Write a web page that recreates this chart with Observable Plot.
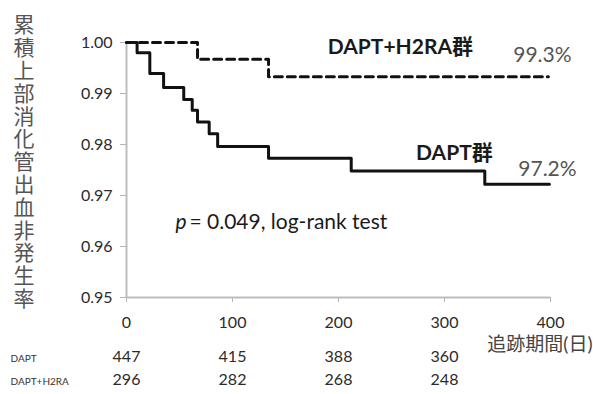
<!DOCTYPE html>
<html>
<head>
<meta charset="utf-8">
<script src="https://cdn.jsdelivr.net/npm/d3@7"></script>
<script src="https://cdn.jsdelivr.net/npm/@observablehq/plot@0.6"></script>
<style>
  html, body { margin: 0; padding: 0; background: #fff; }
  #wrap { position: relative; width: 593px; height: 394px; overflow: hidden; }
  #ytitle {
    position: absolute; left: 12px; top: 14px;
    writing-mode: vertical-rl; font-family: "Noto Sans CJK JP", sans-serif;
    font-size: 21px; line-height: 23px; letter-spacing: 1.8px; color: #555;
  }
  svg { font-family: Lato, "Noto Sans CJK JP", sans-serif; }
</style>
</head>
<body>
<div id="wrap"><div id="ytitle">累積上部消化管出血非発生率</div></div>
<script>
// Kaplan–Meier step data (days, survival without upper GI bleeding)
const daptDays  = [0, 10, 22, 35, 54, 62, 67, 78, 86, 134, 212, 338, 399];
const daptSurv  = [1.000, 0.998, 0.9939, 0.9912, 0.9888, 0.9867, 0.9844, 0.9821, 0.9796, 0.9773, 0.9748, 0.9722, 0.9722];
const h2raDays  = [0, 67, 134, 398];
const h2raSurv  = [1.000, 0.9967, 0.9933, 0.9933];

// Numbers at risk
const riskDays   = [0, 100, 200, 300];
const riskDapt   = [447, 415, 388, 360];
const riskH2ra   = [296, 282, 268, 248];
const groupNames = ["DAPT", "DAPT+H2RA"];

const xTicks = [0, 100, 200, 300, 400];
const yTicks = [0.95, 0.96, 0.97, 0.98, 0.99, 1.00];

const dapt = daptDays.map((d, i) => ({day: d, s: daptSurv[i]}));
const h2ra = h2raDays.map((d, i) => ({day: d, s: h2raSurv[i]}));
const riskRows = [riskDapt, riskH2ra].map((arr, row) => riskDays.map((d, i) => ({day: d, n: arr[i]})));
const lastH = h2ra[h2ra.length - 1];
const lastD = dapt[dapt.length - 1];
const pct = d => (d.s * 100).toFixed(1) + "%";

const chart = Plot.plot({
  width: 593, height: 394,
  marginLeft: 126, marginRight: 43, marginTop: 42, marginBottom: 97,
  x: {domain: [0, 400]},
  y: {domain: [0.95, 1.0]},
  style: {fontFamily: 'Lato, "Noto Sans CJK JP", sans-serif', background: "white"},
  marks: [
    Plot.axisY({ticks: yTicks, tickFormat: d3.format(".2f"), tickSize: 6, tickPadding: 8,
                stroke: "#b5b5b5", fill: "#2b2b2b", fontSize: 16, label: null}),
    Plot.axisX({ticks: xTicks, tickFormat: d3.format("d"), tickSize: 5, tickPadding: 14,
                stroke: "#b5b5b5", fill: "#2b2b2b", fontSize: 16, label: null}),
    Plot.ruleX([0], {stroke: "#bdbdbd", strokeWidth: 2}),
    Plot.ruleY([0.95], {stroke: "#bdbdbd", strokeWidth: 2}),
    Plot.line(h2ra, {x: "day", y: "s", curve: "step-after", stroke: "#111", strokeWidth: 3, strokeDasharray: "8,5"}),
    Plot.line(dapt, {x: "day", y: "s", curve: "step-after", stroke: "#111", strokeWidth: 3}),
    Plot.text([lastH], {x: "day", y: "s", text: () => "DAPT+H2RA群", dx: -148, dy: -29,
                        fontSize: 21, fontWeight: "bold", fill: "#1a1a1a"}),
    Plot.text([lastH], {x: "day", y: "s", text: pct, dx: -6, dy: -21,
                        fontSize: 21, fill: "#555"}),
    Plot.text([lastD], {x: "day", y: "s", text: () => "DAPT群", dx: -95, dy: -31,
                        fontSize: 21, fontWeight: "bold", fill: "#1a1a1a"}),
    Plot.text([lastD], {x: "day", y: "s", text: pct, dx: -2, dy: -15,
                        fontSize: 21, fill: "#555"}),
    Plot.text(["p"], {frameAnchor: "bottom-left", dx: 49, dy: -69, textAnchor: "start",
                      fontSize: 21, fontStyle: "italic", fill: "#1a1a1a"}),
    Plot.text(["= 0.049, log-rank test"], {frameAnchor: "bottom-left", dx: 63, dy: -69, textAnchor: "start",
                      fontSize: 21, fill: "#1a1a1a"}),
    Plot.text(["追跡期間(日)"], {frameAnchor: "bottom-right", dx: 42, dy: 53, textAnchor: "end",
                      fontSize: 19, fill: "#444"}),
    Plot.text([groupNames[0]], {frameAnchor: "bottom-left", dx: -116, dy: 64,
                      textAnchor: "start", fontSize: 10, fill: "#333"}),
    Plot.text([groupNames[1]], {frameAnchor: "bottom-left", dx: -116, dy: 87,
                      textAnchor: "start", fontSize: 10, fill: "#333"}),
    Plot.text(riskRows[0], {x: "day", frameAnchor: "bottom", dy: 64, text: "n",
                      fontSize: 16, fill: "#2b2b2b"}),
    Plot.text(riskRows[1], {x: "day", frameAnchor: "bottom", dy: 87, text: "n",
                      fontSize: 16, fill: "#2b2b2b"})
  ]
});
document.getElementById("wrap").appendChild(chart);
</script>
</body>
</html>
